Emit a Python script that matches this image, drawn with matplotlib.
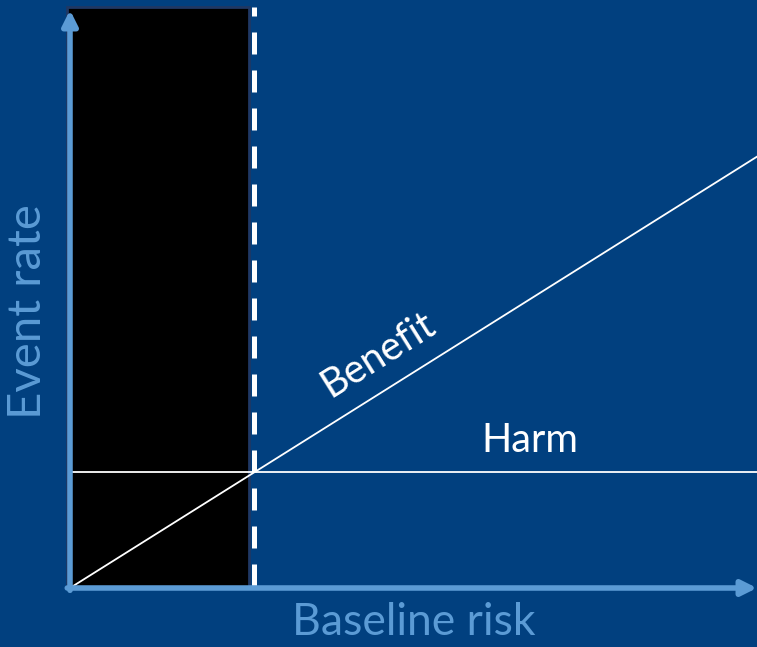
import matplotlib
matplotlib.use("Agg")
import matplotlib.pyplot as plt
from matplotlib.patches import Rectangle
import numpy as np

# Treatment threshold model: benefit grows with baseline risk, harm is constant
baseline_risk = [0.0, 1.0]
harm_rate = 0.2
threshold_risk = 0.268
benefit_rate = [r * harm_rate / threshold_risk for r in baseline_risk]
harm_line = [harm_rate, harm_rate]

axis_labels = {"x": "Baseline risk", "y": "Event rate"}
line_labels = {"benefit": "Benefit", "harm": "Harm"}

BG = "#01407f"
AXIS_BLUE = "#5b9bd5"
W, H = 757, 647

fig = plt.figure(figsize=(W / 100, H / 100), dpi=100, facecolor=BG)


def fx(px):
    return px / W


def fy(py):
    return 1 - py / H


# plot area: origin at (70, 588), top-right at (757, 10)
ax = fig.add_axes([fx(70), fy(588), fx(757) - fx(70), fy(10) - fy(588)])
ax.set_facecolor("none")
ax.set_xlim(0, 1)
ax.set_ylim(0, 1)
ax.axis("off")

# shaded region below the threshold
ax.add_patch(Rectangle((-0.004, 0.0), 0.265, 1.005,
                       facecolor="black", edgecolor="#1f3864", linewidth=2.0,
                       zorder=1, clip_on=False))

# benefit and harm lines
ax.plot(baseline_risk, benefit_rate, color="white", lw=1.3, zorder=3, clip_on=False)
ax.plot(baseline_risk, harm_line, color="white", lw=1.3, zorder=3, clip_on=False)

# threshold dashed line
ax.plot([threshold_risk, threshold_risk], [0.003, 1.005], color="white", lw=3.6,
        dashes=(4.4, 3.2), zorder=4, clip_on=False, solid_capstyle="butt",
        dash_capstyle="butt")

# axes with arrowheads
arrow_kw = dict(arrowstyle="-|>,head_length=0.9,head_width=0.45", color=AXIS_BLUE,
                lw=4.0, shrinkA=0, shrinkB=0)
ax.annotate("", xy=(0, 1.0), xytext=(0, -0.004), arrowprops=arrow_kw,
            annotation_clip=False, zorder=5)
ax.annotate("", xy=(1.0, 0), xytext=(-0.004, 0), arrowprops=arrow_kw,
            annotation_clip=False, zorder=5)

font = "Lato"
fig.text(fx(414), fy(635), axis_labels["x"], color=AXIS_BLUE, fontsize=32,
         family=font, ha="center", va="baseline")
fig.text(fx(28), fy(312), axis_labels["y"], color=AXIS_BLUE, fontsize=34,
         family=font, ha="center", va="center", rotation=90)
fig.text(fx(530), fy(452), line_labels["harm"], color="white", fontsize=28.5,
         family=font, ha="center", va="baseline")
angle = np.degrees(np.arctan(0.626))
fig.text(fx(378), fy(355), line_labels["benefit"], color="white", fontsize=28.5,
         family=font, ha="center", va="center", rotation=angle,
         rotation_mode="anchor")

fig.savefig("out.png", dpi=100, facecolor=BG)
